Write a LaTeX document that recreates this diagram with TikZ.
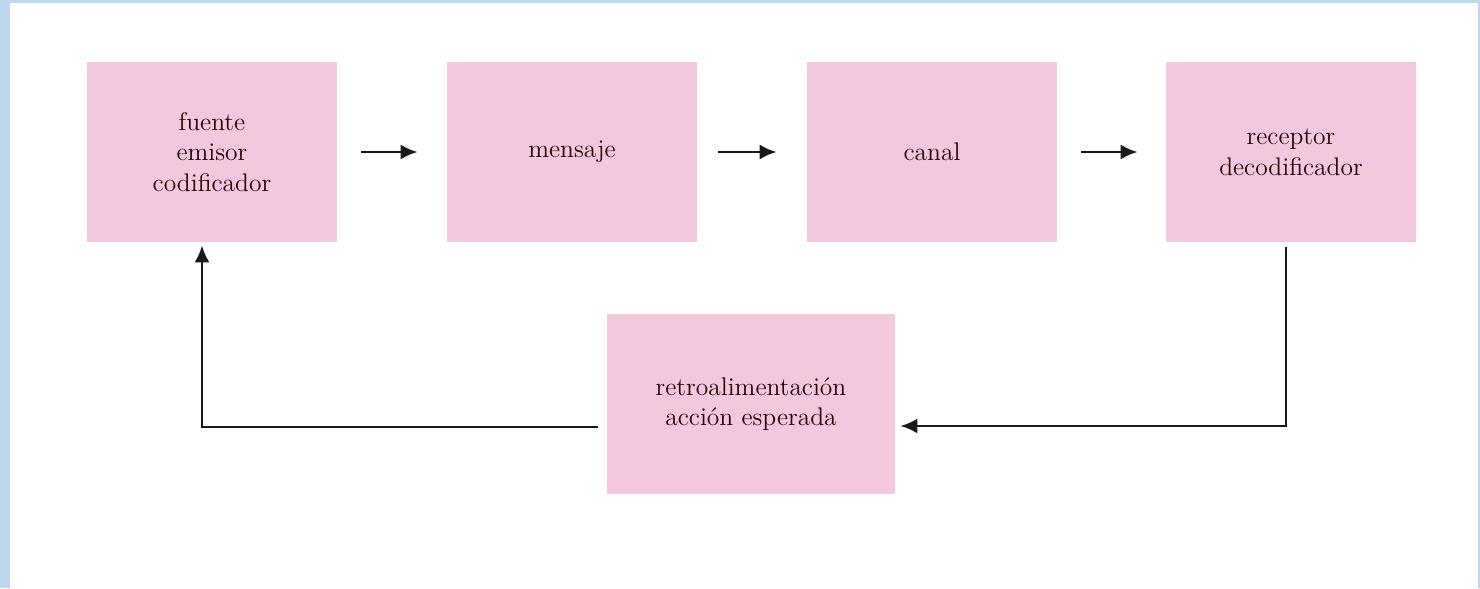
\documentclass[tikz,border=0pt]{standalone}
\usepackage{tikz}
\usetikzlibrary{calc, positioning, arrows.meta}
\definecolor{boxpink}{RGB}{243,200,222}
\definecolor{pageblue}{RGB}{189,215,238}
\tikzset{
    stage/.style={rectangle, fill=boxpink, minimum width=5cm, minimum height=3.6cm, inner sep=0pt, align=center, font=\fontsize{14.5}{17.5}\selectfont, text=black!85!red},
    flow/.style={-{Latex[length=3.4mm, width=3mm]}, line width=1.5pt, black!90},
}
\begin{document}
\begin{tikzpicture}[x=0.02cm, y=-0.02cm]
            % page and frame
            \useasboundingbox (0,0) rectangle (1480,588);
            \fill[pageblue] (0,0) rectangle (1480,588);
            \fill[white] (10,3) rectangle (1478,588);

            % stages of the process
            \node[stage] (fuente) at (212,152) {fuente\\emisor\\codificador};
            \node[stage] (mensaje) at (572,152) {mensaje};
            \node[stage] (canal) at (932,152) {canal};
            \node[stage] (receptor) at (1291,152) {receptor\\decodificador};
            \node[stage, minimum width=5.76cm] (retro) at (751,404) {retroalimentación\\acción esperada};

            % forward arrows
            \draw[flow, shorten <=0.48cm, shorten >=0.58cm] (fuente) -- (mensaje);
            \draw[flow, shorten <=0.42cm, shorten >=0.6cm] (mensaje) -- (canal);
            \draw[flow, shorten <=0.48cm, shorten >=0.56cm] (canal) -- (receptor);

            % feedback loop
            \draw[flow, shorten <=0.1cm, shorten >=0.1cm] ([xshift=-0.1cm]receptor.south) |- ([yshift=-0.44cm]retro.east);
            \draw[flow, shorten <=0.18cm, shorten >=0.06cm] ([yshift=-0.46cm]retro.west) -| ([xshift=-0.2cm]fuente.south);
\end{tikzpicture}
\end{document}
